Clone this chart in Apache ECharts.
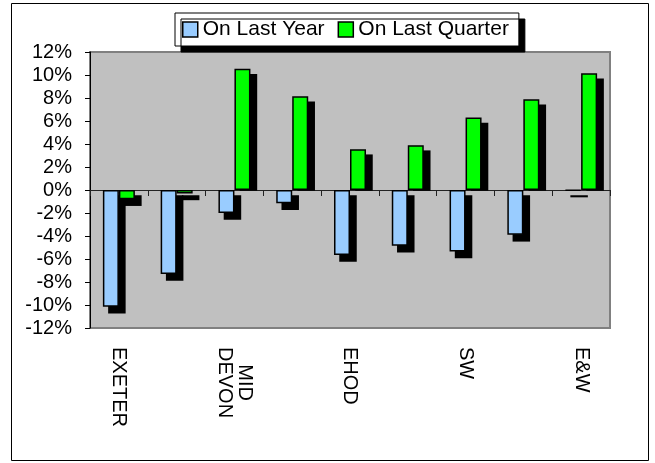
<!DOCTYPE html>
<html>
<head>
<meta charset="utf-8">
<script src="https://cdn.jsdelivr.net/npm/echarts@6/dist/echarts.min.js"></script>
<style>
  html, body { margin: 0; padding: 0; background: #fff; }
</style>
</head>
<body>
<div id="myChart" style="width: 655px; height: 463px;"></div>
<script>
// areas (only every other name is printed on the axis)
var areas = ['EXETER', '', 'MID\nDEVON', '', 'EHOD', '', 'SW', '', 'E&W'];
var onLastYear = [-10.15, -7.3, -2.0, -1.15, -5.65, -4.85, -5.35, -3.9, -0.05];
var onLastQuarter = [-0.8, -0.3, 10.55, 8.15, 3.55, 3.9, 6.3, 7.9, 10.15];
var yTicks = [-12, 12, 2]; // min, max, step (%)

var font = '"Liberation Sans", Arial, sans-serif';
var barW = 16;
var shadowOff = 6;

var myChart = echarts.init(document.getElementById('myChart'));

// excel style drop shadow behind each bar
function shadowRect(api, idx, val, dx) {
  var base = api.coord([idx, 0]);
  var top = api.coord([idx, val]);
  var x = base[0] + dx + shadowOff;
  var y1, y2;
  if (val >= 0) {
    y1 = top[1] + shadowOff;
    y2 = base[1];
  } else {
    y1 = base[1] + shadowOff;
    y2 = top[1] + shadowOff;
  }
  return {
    type: 'rect',
    shape: { x: x - 0.75, y: y1 - 0.75, width: barW + 1.5, height: Math.max(y2 - y1, 0) + 1.5 },
    style: { fill: '#000' }
  };
}

myChart.setOption({
  backgroundColor: '#fff',
  animation: false,
  textStyle: { fontFamily: font, color: '#000' },
  graphic: [{
    type: 'rect',
    z: -10,
    shape: { x: 11.5, y: 3.5, width: 637, height: 457 },
    style: { fill: 'none', stroke: '#000', lineWidth: 1 }
  }],
  legend: {
    left: 175,
    top: 13,
    padding: [6, 10, 6, 7],
    itemWidth: 15,
    itemHeight: 15,
    itemGap: 13,
    itemTextGap: 5,
    icon: 'rect',
    backgroundColor: '#fff',
    borderColor: '#000',
    borderWidth: 1,
    shadowColor: '#000',
    shadowBlur: 0,
    shadowOffsetX: 6,
    shadowOffsetY: 6,
    itemStyle: { borderColor: '#000', borderWidth: 1.5 },
    textStyle: { fontFamily: font, fontSize: 21, color: '#000' },
    data: ['On Last Year', 'On Last Quarter']
  },
  grid: {
    left: 90,
    right: 45,
    top: 52,
    bottom: 135,
    show: true,
    backgroundColor: '#c0c0c0',
    borderColor: '#808080',
    borderWidth: 2
  },
  xAxis: [
    {
      // labels at the bottom of the plot
      type: 'category',
      position: 'bottom',
      data: areas,
      axisLine: { show: false, onZero: false },
      axisTick: { show: false },
      axisLabel: {
        interval: 1,
        rotate: -90,
        margin: 19,
        formatter: function (val) {
          return val.split('\n').map(function (s) { return '{c|' + s + '}'; }).join('\n');
        },
        rich: {
          c: { align: 'center', fontFamily: font, fontSize: 20, color: '#000' }
        }
      }
    },
    {
      // zero line with ticks between categories
      type: 'category',
      position: 'top',
      data: areas,
      axisLine: { show: true, onZero: true, lineStyle: { color: '#222', width: 1 } },
      axisTick: { show: true, inside: true, interval: 0, length: 6, lineStyle: { color: '#222' } },
      axisLabel: { show: false }
    }
  ],
  yAxis: {
    type: 'value',
    min: yTicks[0],
    max: yTicks[1],
    interval: yTicks[2],
    axisLine: { show: true, lineStyle: { color: '#000', width: 1 } },
    axisTick: { show: true, length: 5, lineStyle: { color: '#000' } },
    splitLine: { show: false },
    axisLabel: {
      margin: 18,
      fontFamily: font,
      fontSize: 20,
      color: '#000',
      formatter: function (v) { return v + '%'; }
    }
  },
  series: [
    {
      name: 'shadows',
      type: 'custom',
      xAxisIndex: 0,
      z: 1,
      silent: true,
      encode: { x: 0, y: [1, 2] },
      data: areas.map(function (a, i) { return [i, onLastYear[i], onLastQuarter[i]]; }),
      renderItem: function (params, api) {
        var i = api.value(0);
        return {
          type: 'group',
          children: [
            shadowRect(api, i, api.value(1), -barW),
            shadowRect(api, i, api.value(2), 0)
          ]
        };
      }
    },
    {
      name: 'On Last Year',
      type: 'bar',
      xAxisIndex: 0,
      z: 3,
      barWidth: barW,
      barGap: '0%',
      itemStyle: { color: '#99ccff', borderColor: '#000', borderWidth: 1.5 },
      data: onLastYear
    },
    {
      name: 'On Last Quarter',
      type: 'bar',
      xAxisIndex: 0,
      z: 3,
      barWidth: barW,
      barGap: '0%',
      itemStyle: { color: '#00ff00', borderColor: '#000', borderWidth: 1.5 },
      data: onLastQuarter
    }
  ]
});
</script>
</body>
</html>
